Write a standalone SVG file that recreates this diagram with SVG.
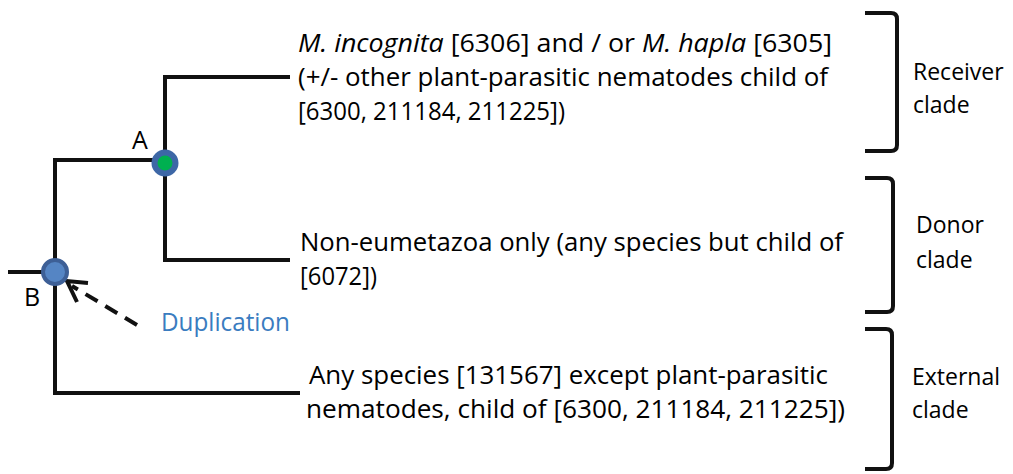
<svg xmlns="http://www.w3.org/2000/svg" width="1013" height="474" viewBox="0 0 1013 474">
<style>
.t{font-family:"Open Sans","Noto Sans",sans-serif;font-size:25px;fill:#000}
.r{font-family:"Open Sans","Noto Sans",sans-serif;font-size:23px;fill:#000}
.i{font-style:italic}
.br{fill:none;stroke:#111;stroke-width:4;stroke-linejoin:round}
.ln{stroke:#111;stroke-width:4;fill:none;stroke-linecap:square}
</style>
<rect width="1013" height="474" fill="#fff"/>
<g id="connectors">
<path class="ln" d="M10,272 H42"/>
<path class="ln" d="M55,393 V160 H165"/>
<path class="ln" d="M55,393 H298"/>
<path class="ln" d="M288,77 H165 V260 H288"/>
<path d="M137,325 L72,286" stroke="#111" stroke-width="4" stroke-dasharray="14,9" fill="none"/>
<path d="M88,283 L67,281 L77,302" stroke="#111" stroke-width="4" fill="none" stroke-linejoin="miter"/>
</g>
<g id="nodeA">
<circle cx="165" cy="163" r="10.5" fill="#00b050" stroke="#3d67a6" stroke-width="6"/>
<text class="t" x="132" y="149">A</text>
</g>
<g id="nodeB">
<circle cx="55" cy="272" r="12" fill="#5585c4" stroke="#3d5f96" stroke-width="4"/>
<text class="t" x="24" y="306">B</text>
</g>
<g id="duplication">
<text class="t" x="161" y="331" textLength="129" lengthAdjust="spacingAndGlyphs" style="fill:#3a7cc0">Duplication</text>
</g>
<g id="receiver">
<text class="t" x="298" y="52" textLength="534" lengthAdjust="spacingAndGlyphs"><tspan class="i">M. incognita</tspan> [6306] and / or <tspan class="i">M. hapla</tspan> [6305]</text>
<text class="t" x="298" y="86" textLength="530" lengthAdjust="spacingAndGlyphs">(+/- other plant-parasitic nematodes child of</text>
<text class="t" x="298" y="120" textLength="267" lengthAdjust="spacingAndGlyphs">[6300, 211184, 211225])</text>
<path class="br" d="M865,13 H891 Q897,13 897,19 V145 Q897,151 891,151 H865"/>
<text class="r" x="913" y="80">Receiver</text>
<text class="r" x="913" y="113">clade</text>
</g>
<g id="donor">
<text class="t" x="300" y="251" textLength="543" lengthAdjust="spacingAndGlyphs">Non-eumetazoa only (any species but child of</text>
<text class="t" x="300" y="285" textLength="77" lengthAdjust="spacingAndGlyphs">[6072])</text>
<path class="br" d="M865,178 H887 Q893,178 893,184 V306 Q893,312 887,312 H865"/>
<text class="r" x="916" y="233">Donor</text>
<text class="r" x="916" y="268">clade</text>
</g>
<g id="external">
<text class="t" x="309" y="384" textLength="519" lengthAdjust="spacingAndGlyphs">Any species [131567] except plant-parasitic</text>
<text class="t" x="306" y="418" textLength="539" lengthAdjust="spacingAndGlyphs">nematodes, child of [6300, 211184, 211225])</text>
<path class="br" d="M865,329 H886 Q892,329 892,335 V463 Q892,469 886,469 H865"/>
<text class="r" x="912" y="385">External</text>
<text class="r" x="912" y="418">clade</text>
</g>
</svg>
